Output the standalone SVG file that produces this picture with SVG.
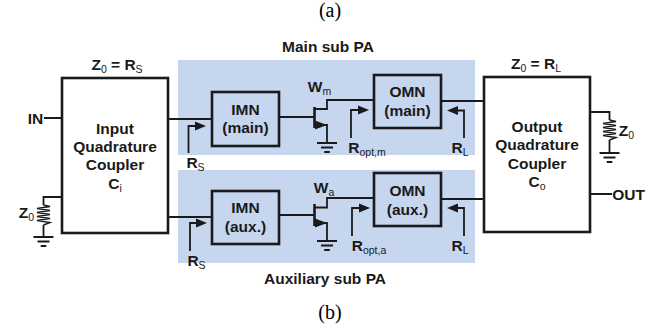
<svg xmlns="http://www.w3.org/2000/svg" width="658" height="327" viewBox="0 0 658 327">
<style>
.b{fill:none;stroke:#1a1a1a;stroke-width:2.6}
.f{fill:#fff}
.w{fill:none;stroke:#1a1a1a;stroke-width:1.8}
.t{fill:none;stroke:#1a1a1a;stroke-width:2.6}
.r{fill:none;stroke:#1a1a1a;stroke-width:1.4}
.a{fill:#1a1a1a;stroke:none}
text{font-family:"Liberation Sans",Arial,sans-serif;font-weight:bold;font-size:15.5px;fill:#1a1a1a;text-anchor:middle}
.s{font-size:10.5px;font-weight:normal;fill:#1a1a1a}
.c{font-family:"Liberation Serif","Times New Roman",serif;font-weight:normal;font-size:20px;fill:#000}
</style>
<defs>
<g id="gnd"><path class="w" d="M-10 0H10M-6 4.500H6M-2.800 9H2.800"/></g>
<path id="res" class="r" d="M0 0L6.500 1.500L-6.500 3.500L6.500 5.500L-6.500 7.500L6.500 9.500L-6.500 11.500L6.500 13.500L-6.500 15.500L6.500 17.500L0 20"/>
</defs>
<rect width="658" height="327" fill="#fff"/>
<text class="c" x="330" y="17">(a)</text>
<text class="c" x="330" y="319">(b)</text>
<g id="bands">
<rect x="178" y="60" width="297" height="95" fill="#c5d6ee"/>
<rect x="178" y="170" width="297" height="93" fill="#c5d6ee"/>
<text x="328" y="52">Main sub PA</text>
<text x="325" y="284">Auxiliary sub PA</text>
</g>
<g id="connectors">
<path class="w" d="M44 118H62M62 197H43.500V205M43.500 225V237"/>
<use href="#res" x="43.500" y="205"/>
<use href="#gnd" x="43.500" y="237"/>
<path class="w" d="M168 119H212M168 217H212M279 117H314M279 215H314M441 101H484M441 199H484"/>
<path class="w" d="M188.500 153V126H198M190 251V223H199M351 138V110H360M352 236V208H361M464 138V110.500H456M464 236V208H456"/>
<path class="a" d="M206 126L195 121.500V130.500ZM207 223L196 218.500V227.500ZM369 110L358 105.500V114.500ZM370 208L359 203.500V212.500ZM447 110.500L458 106V115ZM447 208L458 203.500V212.500Z"/>
<path class="w" d="M590 112H609.500V120M609.500 140V152M590 194H612"/>
<use href="#res" x="609.500" y="120"/>
<use href="#gnd" x="609.500" y="153"/>
</g>
<g id="coupler-in"><rect class="b f" x="62" y="78" width="106" height="155"/>
<text x="115" y="133.500">Input</text><text x="115" y="152">Quadrature</text><text x="115" y="170">Coupler</text><text x="115" y="188.500">C<tspan class="s" dy="3">i</tspan></text></g>
<g id="coupler-out"><rect class="b f" x="484" y="77" width="106" height="155"/>
<text x="537" y="131.500">Output</text><text x="537" y="150">Quadrature</text><text x="537" y="168.500">Coupler</text><text x="537" y="187">C<tspan class="s" dy="3">o</tspan></text></g>
<g id="imn-main"><rect class="b" x="212" y="92" width="67" height="54"/><text x="245.500" y="114.500">IMN</text><text x="245.500" y="133">(main)</text></g>
<g id="omn-main"><rect class="b" x="374" y="75" width="67" height="53"/><text x="407.500" y="97">OMN</text><text x="407.500" y="116">(main)</text></g>
<g id="imn-aux"><rect class="b" x="212" y="191" width="67" height="53"/><text x="245.500" y="213">IMN</text><text x="245.500" y="232">(aux.)</text></g>
<g id="omn-aux"><rect class="b" x="374" y="173" width="67" height="53"/><text x="407.500" y="195.500">OMN</text><text x="407.500" y="214.500">(aux.)</text></g>
<g id="tr-main">
<path class="t" d="M314.500 107V128"/>
<path class="w" d="M314 109H327V100H374M314 125H327V143"/>
<path class="a" d="M327 125L315 120.500V129.500Z"/>
<use href="#gnd" x="327" y="143"/>
</g>
<g id="tr-aux">
<path class="t" d="M314.500 204V226"/>
<path class="w" d="M314 207.500H327V198H374M314 223H327V241"/>
<path class="a" d="M327 223L315 218.500V227.500Z"/>
<use href="#gnd" x="327" y="241"/>
</g>
<g id="labels">
<text x="117" y="70">Z<tspan class="s" dy="3">0</tspan><tspan dy="-3"> = R</tspan><tspan class="s" dy="3">S</tspan></text>
<text x="536" y="69">Z<tspan class="s" dy="3">0</tspan><tspan dy="-3"> = R</tspan><tspan class="s" dy="3">L</tspan></text>
<text x="35.500" y="124">IN</text>
<text x="26.500" y="218">Z<tspan class="s" dy="3">0</tspan></text>
<text x="626.500" y="135.500">Z<tspan class="s" dy="3">0</tspan></text>
<text x="628.500" y="200">OUT</text>
<text x="195.500" y="168">R<tspan class="s" dy="3">S</tspan></text>
<text x="196.500" y="266">R<tspan class="s" dy="3">S</tspan></text>
<text x="319.500" y="92">W<tspan class="s" dy="3">m</tspan></text>
<text x="324" y="193">W<tspan class="s" dy="3">a</tspan></text>
<text x="367" y="153">R<tspan class="s" dy="3">opt,m</tspan></text>
<text x="369" y="251">R<tspan class="s" dy="3">opt,a</tspan></text>
<text x="460" y="153">R<tspan class="s" dy="3">L</tspan></text>
<text x="460" y="251">R<tspan class="s" dy="3">L</tspan></text>
</g>
</svg>
